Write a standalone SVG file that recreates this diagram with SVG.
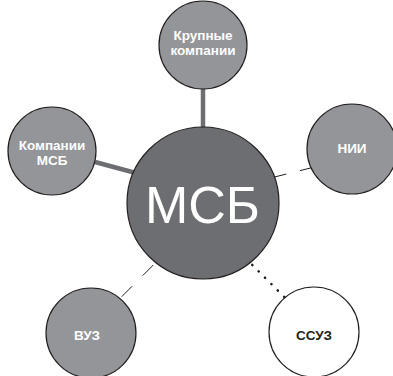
<svg xmlns="http://www.w3.org/2000/svg" width="393" height="376" viewBox="0 0 393 376">
<style>
.node{fill:#939598;stroke:#231f20;stroke-width:1.2}
.hub{fill:#6d6e71;stroke:#231f20;stroke-width:1.2}
.white{fill:#ffffff;stroke:#231f20;stroke-width:1.2}
.lbl{font-family:"Liberation Sans",Arial,sans-serif;font-weight:bold;font-size:13.5px;fill:#ffffff;text-anchor:middle}
.dark{fill:#231f20}
.thick{stroke:#6d6e71;stroke-width:4.5;fill:none}
.thin{stroke:#231f20;stroke-width:1;fill:none}
.dots{stroke:#231f20;stroke-width:2.6;stroke-linecap:round;stroke-dasharray:0.1 8.9;fill:none}
</style>
<rect width="393" height="376" fill="#ffffff"/>
<g id="connectors">
<line class="thick" x1="203" y1="88" x2="203" y2="129"/>
<line class="thick" x1="95" y1="162" x2="134" y2="172.5"/>
<line class="thin" x1="271.7" y1="177.7" x2="311.7" y2="167.7" stroke-dasharray="15 14"/>
<line class="thin" x1="153.3" y1="265" x2="121.7" y2="296.7" stroke-dasharray="15 15"/>
<line class="dots" x1="252.3" y1="265" x2="284.5" y2="297.2"/>
</g>
<g id="node-krupnye">
<circle class="node" cx="203" cy="45" r="44"/>
<text class="lbl" x="203" y="39.5">Крупные</text>
<text class="lbl" x="203" y="55">компании</text>
</g>
<g id="node-kompanii-msb">
<circle class="node" cx="52" cy="151" r="44"/>
<text class="lbl" x="52" y="150">Компании</text>
<text class="lbl" x="52" y="165">МСБ</text>
</g>
<g id="node-nii">
<circle class="node" cx="352" cy="149" r="45"/>
<text class="lbl" x="352" y="152.5">НИИ</text>
</g>
<g id="node-vuz">
<circle class="node" cx="91" cy="333" r="45"/>
<text class="lbl" x="87" y="340">ВУЗ</text>
</g>
<g id="node-ssuz">
<circle class="white" cx="314" cy="332" r="45"/>
<text class="lbl dark" x="314" y="339.5">ССУЗ</text>
</g>
<g id="node-msb">
<circle class="hub" cx="203" cy="203" r="76"/>
<text x="202.5" y="223" font-family="'Liberation Sans',Arial,sans-serif" font-size="52" fill="#ffffff" text-anchor="middle">МСБ</text>
</g>
</svg>
